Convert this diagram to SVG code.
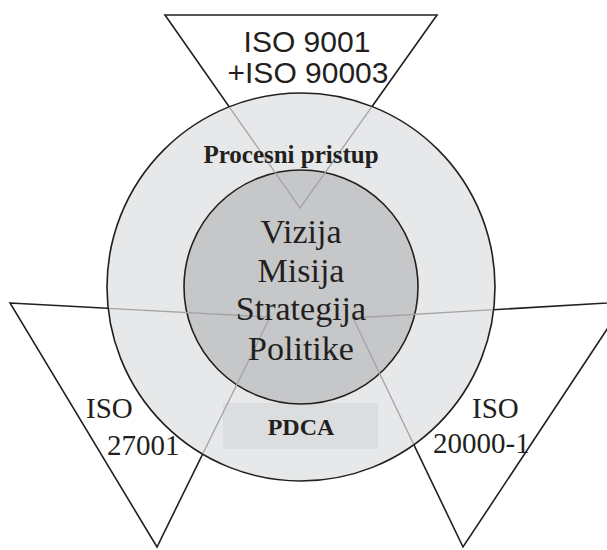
<svg xmlns="http://www.w3.org/2000/svg" width="607" height="550" viewBox="0 0 607 550">
<style>
.tri{fill:none;stroke:#231f20;stroke-width:1.6;stroke-linejoin:miter}
.triIn{fill:none;stroke:#a3a4a6;stroke-width:1.3}
.circ{stroke:#231f20;stroke-width:1.6}
.serif{font-family:"Liberation Serif","Times New Roman",serif;fill:#231f20}
.sans{font-family:"Liberation Sans",Arial,sans-serif;fill:#231f20}
</style>
<defs>
<clipPath id="outerClip"><circle cx="301" cy="287" r="193"/></clipPath>
</defs>
<rect width="607" height="550" fill="#ffffff"/>
<g id="connectors">
<polygon id="triTop" class="tri" points="165,15 437,15 300,208"/>
<polygon id="triLeft" class="tri" points="10,303 270,317 157,547"/>
<polygon id="triRight" class="tri" points="353,318 625,302 463,547"/>
</g>
<g id="outer">
<circle class="circ" cx="301" cy="287" r="194" fill="#e7e8e9"/>
</g>
<g id="pdca">
<rect x="223" y="403" width="155" height="46" fill="#dcdddf"/>
</g>
<g id="inner">
<circle class="circ" cx="301" cy="287" r="117" fill="#c6c7c9"/>
</g>
<g id="innerLines" clip-path="url(#outerClip)">
<polygon class="triIn" points="165,15 437,15 300,208"/>
<polygon class="triIn" points="10,303 270,317 157,547"/>
<polygon class="triIn" points="353,318 625,302 463,547"/>
</g>
<g id="labels">
<g id="topLabel" class="sans" font-size="30" text-anchor="middle">
<text x="307" y="52">ISO 9001</text>
<text x="308" y="83">+ISO 90003</text>
</g>
<g id="leftLabel" class="serif" font-size="29">
<text x="86" y="418">ISO</text>
<text x="107" y="455">27001</text>
</g>
<g id="rightLabel" class="serif" font-size="29">
<text x="472" y="418">ISO</text>
<text x="433" y="453">20000-1</text>
</g>
<text class="serif" x="291" y="163" font-size="25" font-weight="bold" text-anchor="middle">Procesni pristup</text>
<text class="serif" x="301" y="435" font-size="24" font-weight="bold" text-anchor="middle">PDCA</text>
<g id="centerLabel" class="serif" font-size="34" text-anchor="middle">
<text x="301" y="243">Vizija</text>
<text x="301" y="282">Misija</text>
<text x="301" y="320">Strategija</text>
<text x="301" y="360">Politike</text>
</g>
</g>
</svg>
